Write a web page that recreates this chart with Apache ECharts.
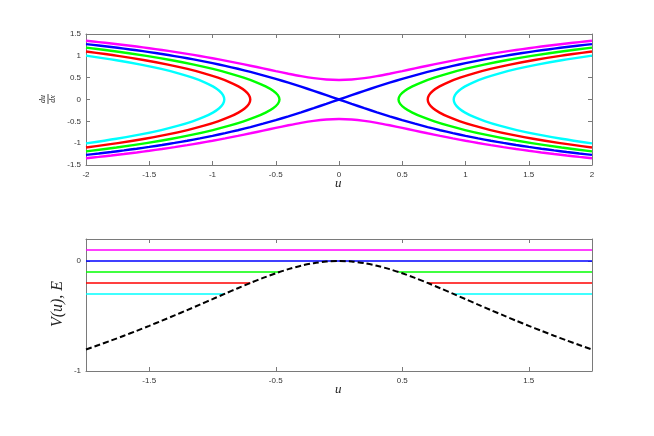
<!DOCTYPE html>
<html><head><meta charset="utf-8">
<script src="https://cdn.jsdelivr.net/npm/echarts@6/dist/echarts.min.js"></script>
<style>html,body{margin:0;padding:0;background:#fff}#c{width:654px;height:436px}</style>
</head><body><div id="c"></div>
<script>
// u sample points (u >= 0), mirrored for u < 0
const uGrid = [0,0.1,0.2,0.3,0.4,0.5,0.6,0.7,0.8,0.9,1.0,1.1,1.2,1.3,1.4,1.5,1.6,1.7,1.8,1.9,2.0];
// potential V(u), even in u
const V = [0,-0.005,-0.0196,-0.0431,-0.0742,-0.1116,-0.1537,-0.1994,-0.2474,-0.2967,-0.3466,-0.3965,-0.446,-0.4948,-0.5426,-0.5893,-0.6349,-0.6792,-0.7223,-0.7641,-0.8047];
// magenta orbit (E = 0.1) upper branch du/dx at uGrid
const magentaP = [0.4472,0.4582,0.4891,0.5350,0.5903,0.6505,0.7124,0.7738,0.8335,0.8907,0.9451,0.9965,1.0450,1.0907,1.1337,1.1742,1.2123,1.2484,1.2824,1.3146,1.3451];
// blue separatrix (E = 0) du/dx at uGrid
const blueP = [0,0.0997,0.1980,0.2936,0.3853,0.4724,0.5545,0.6315,0.7034,0.7703,0.8326,0.8905,0.9445,0.9948,1.0417,1.0857,1.1268,1.1655,1.2019,1.2362,1.2686];
// green orbit (E = -0.1): u at du/dx values
const greenPv = [0,0.1,0.2,0.3,0.4,0.5,0.6,0.7,0.8,0.9,1.0,1.1,1.1872];
const greenU  = [0.4705,0.4834,0.5208,0.5800,0.6582,0.7539,0.8664,0.9969,1.1473,1.3212,1.5232,1.7595,2.0];
// red orbit (E = -0.2)
const redPv = [0,0.1,0.2,0.3,0.4,0.5,0.6,0.7,0.8,0.9,1.0,1.0997];
const redU  = [0.7013,0.7118,0.7434,0.7952,0.8664,0.9568,1.0669,1.1980,1.3524,1.5341,1.7479,2.0];
// cyan orbit (E = -0.3)
const cyanPv = [0,0.1,0.2,0.3,0.4,0.5,0.6,0.7,0.8,0.9,1.0047];
const cyanU  = [0.9067,0.9168,0.9469,0.9969,1.0669,1.1574,1.2696,1.4051,1.5670,1.7595,2.0];
// energy levels and their turning points
const energyNames = ['magenta','blue','green','red','cyan'];
const energies = [0.1, 0, -0.1, -0.2, -0.3];
const turnU = [0, 0, 0.4705, 0.7013, 0.9067];
const colors = ['#ff00ff','#0000ff','#00ff00','#ff0000','#00ffff'];
const xTicksTop = [-2,-1.5,-1,-0.5,0,0.5,1,1.5,2];
const yTicksTop = [-1.5,-1,-0.5,0,0.5,1,1.5];
const xTicksBottom = [-1.5,-0.5,0.5,1.5];
const yTicksBottom = [-1,0];

function evenCurve(us, ps, sign){ // u from -2..2, p even in u
  const pts=[];
  for(let i=us.length-1;i>0;i--) pts.push([-us[i], sign*ps[i]]);
  for(let i=0;i<us.length;i++) pts.push([us[i], sign*ps[i]]);
  return pts;
}
function oddCurve(us, ps, sign){
  const pts=[];
  for(let i=us.length-1;i>0;i--) pts.push([-us[i], -sign*ps[i]]);
  for(let i=0;i<us.length;i++) pts.push([us[i], sign*ps[i]]);
  return pts;
}
function branch(pv, uv, side){ // p from -pmax..pmax
  const pts=[];
  for(let i=pv.length-1;i>0;i--) pts.push([side*uv[i], -pv[i]]);
  for(let i=0;i<pv.length;i++) pts.push([side*uv[i], pv[i]]);
  return pts;
}
function topLine(data,color){
  return {type:'line',xAxisIndex:0,yAxisIndex:0,data:data,showSymbol:false,smooth:0.3,
    lineStyle:{color:color,width:2.4},itemStyle:{color:color},z:3};
}
const series=[];
series.push(topLine(branch(cyanPv,cyanU,1),colors[4]));
series.push(topLine(branch(cyanPv,cyanU,-1),colors[4]));
series.push(topLine(branch(redPv,redU,1),colors[3]));
series.push(topLine(branch(redPv,redU,-1),colors[3]));
series.push(topLine(branch(greenPv,greenU,1),colors[2]));
series.push(topLine(branch(greenPv,greenU,-1),colors[2]));
series.push(topLine(oddCurve(uGrid,blueP,1),colors[1]));
series.push(topLine(oddCurve(uGrid,blueP,-1),colors[1]));
series.push(topLine(evenCurve(uGrid,magentaP,1),colors[0]));
series.push(topLine(evenCurve(uGrid,magentaP,-1),colors[0]));

// bottom: energy levels
function hLine(x0,x1,E,color){
  return {type:'line',xAxisIndex:2,yAxisIndex:2,data:[[x0,E],[x1,E]],showSymbol:false,
    lineStyle:{color:color,width:1.5},itemStyle:{color:color},z:2};
}
for(let k=0;k<energies.length;k++){
  if(turnU[k]===0){ series.push(hLine(-2,2,energies[k],colors[k])); }
  else { series.push(hLine(-2,-turnU[k],energies[k],colors[k])); series.push(hLine(turnU[k],2,energies[k],colors[k])); }
}
series.push({type:'line',xAxisIndex:2,yAxisIndex:2,data:evenCurve(uGrid,V,1),showSymbol:false,smooth:0.3,
  lineStyle:{color:'#000',width:2,type:[6,3]},z:4});

const axisCol='#7a7a7a';
const lblFont={fontSize:8,color:'#333',fontFamily:'Liberation Sans'};
function xAx(grid,min,max,ticks,pos,show){
  return {type:'value',gridIndex:grid,min:min,max:max,position:pos,
    axisLine:{show:true,onZero:false,lineStyle:{color:axisCol,width:1}},
    axisTick:{show:true,inside:true,length:4,customValues:ticks,lineStyle:{color:axisCol}},
    axisLabel:Object.assign({show:show,customValues:ticks,margin:6},lblFont),
    splitLine:{show:false}};
}
function yAx(grid,min,max,ticks,pos,show){
  return {type:'value',gridIndex:grid,min:min,max:max,position:pos,
    axisLine:{show:true,onZero:false,lineStyle:{color:axisCol,width:1}},
    axisTick:{show:true,inside:true,length:4,customValues:ticks,lineStyle:{color:axisCol}},
    axisLabel:Object.assign({show:show,customValues:ticks,margin:5},lblFont),
    splitLine:{show:false}};
}
const option={
  animation:false,
  backgroundColor:'#fff',
  grid:[{left:86,width:506,top:34,height:131},{left:86,width:506,top:239,height:132}],
  xAxis:[xAx(0,-2,2,xTicksTop,'bottom',true),xAx(0,-2,2,xTicksTop,'top',false),
         xAx(1,-2,2,xTicksBottom,'bottom',true),xAx(1,-2,2,xTicksBottom,'top',false)],
  yAxis:[yAx(0,-1.5,1.5,yTicksTop,'left',true),yAx(0,-1.5,1.5,yTicksTop,'right',false),
         yAx(1,-1,0.2,yTicksBottom,'left',true),yAx(1,-1,0.2,yTicksBottom,'right',false)],
  series:series,
  graphic:[
    {type:'text',left:335,top:177,style:{text:'u',font:'italic 13px "Liberation Serif"',fill:'#222'}},
    {type:'text',left:335,top:383,style:{text:'u',font:'italic 13px "Liberation Serif"',fill:'#222'}},
    {type:'group',x:51,y:99,rotation:Math.PI/2,children:[
      {type:'text',x:0,y:-4,style:{text:'du',font:'italic 8px "Liberation Serif"',fill:'#222',align:'center',verticalAlign:'bottom'}},
      {type:'line',shape:{x1:-5,y1:-3,x2:5,y2:-3},style:{stroke:'#222',lineWidth:0.8}},
      {type:'text',x:0,y:-2,style:{text:'dx',font:'italic 8px "Liberation Serif"',fill:'#222',align:'center',verticalAlign:'top'}}
    ]},
    {type:'text',x:58,y:304,rotation:Math.PI/2,style:{text:'V(u), E',font:'italic 16px "Liberation Serif"',fill:'#222',align:'center',verticalAlign:'middle'}}
  ]
};
echarts.init(document.getElementById('c'),null,{renderer:'canvas'}).setOption(option);
</script></body></html>
